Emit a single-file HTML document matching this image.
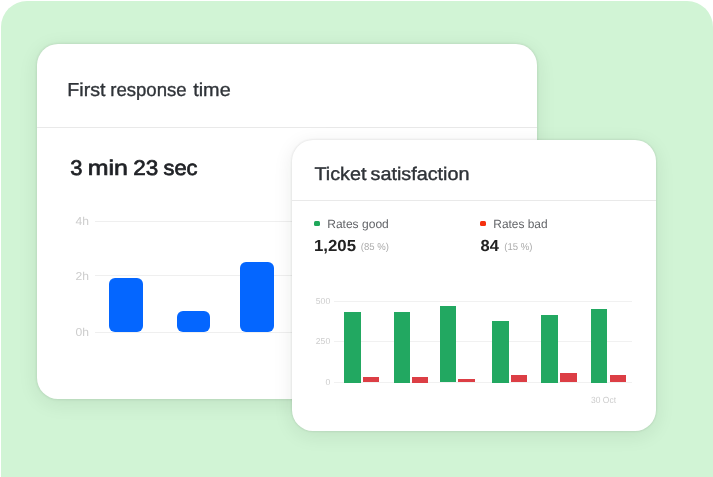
<!DOCTYPE html>
<html>
<head>
<meta charset="utf-8">
<style>
html,body{margin:0;padding:0;}
body{width:713px;height:477px;overflow:hidden;background:#fff;font-family:"Liberation Sans",sans-serif;position:relative;}
.bg{position:absolute;left:0.8px;top:0.5px;width:712.2px;height:476.2px;background:#d1f4d5;border-radius:26px 26px 0 0;}
.card{position:absolute;background:#fff;border-radius:21px;box-shadow:0 4px 20px rgba(0,30,10,0.085),0 0 3px rgba(0,30,10,0.14);}
#c1{left:37px;top:44px;width:500px;height:355px;}
#c2{left:292px;top:140px;width:364px;height:291px;}
svg{will-change:transform;text-rendering:geometricPrecision;position:absolute;left:0;top:0;width:713px;height:477px;font-family:"Liberation Sans",sans-serif;}
.hr{position:absolute;height:1px;background:#e9e9e9;}
.gl{position:absolute;height:1px;background:#efefef;}
.gl2{position:absolute;height:1px;background:#f1f1f1;}
.bb{position:absolute;background:#0466ff;border-radius:6px;}
.g{position:absolute;background:#22a861;}
.r{position:absolute;background:#dc3e45;}
.dot{position:absolute;width:5.6px;height:5.6px;border-radius:1.5px;top:220.8px;}
</style>
</head>
<body>
<div class="bg"></div>
<div class="card" id="c1"></div>
<div class="hr" style="left:37px;top:127px;width:500px;"></div>
<div class="gl" style="left:95px;top:220.5px;width:442px;"></div>
<div class="gl" style="left:95px;top:275px;width:442px;"></div>
<div class="gl" style="left:95px;top:332px;width:442px;"></div>
<div class="bb" style="left:109.2px;top:277.5px;width:33.8px;height:54.5px;"></div>
<div class="bb" style="left:177.1px;top:311.4px;width:33px;height:20.6px;"></div>
<div class="bb" style="left:240.3px;top:261.5px;width:33.8px;height:70.5px;"></div>
<svg id="s1" width="713" height="477" viewBox="0 0 713 477">
<text x="67.3" y="95.6" font-size="18.8" fill="#2f3338" textLength="38.2" lengthAdjust="spacingAndGlyphs" stroke="#2f3338" stroke-width="0.35">First</text>
<text x="110.2" y="95.6" font-size="18.8" fill="#2f3338" textLength="76.5" lengthAdjust="spacingAndGlyphs" stroke="#2f3338" stroke-width="0.35">response</text>
<text x="193.2" y="95.6" font-size="18.8" fill="#2f3338" textLength="37.5" lengthAdjust="spacingAndGlyphs" stroke="#2f3338" stroke-width="0.35">time</text>
<text x="70.2" y="175.1" font-size="21.2" fill="#1f2125" textLength="12.2" lengthAdjust="spacingAndGlyphs" stroke="#1f2125" stroke-width="0.7">3</text>
<text x="87.8" y="175.1" font-size="21.2" fill="#1f2125" textLength="40.2" lengthAdjust="spacingAndGlyphs" stroke="#1f2125" stroke-width="0.7">min</text>
<text x="133.3" y="175.1" font-size="21.2" fill="#1f2125" textLength="25" lengthAdjust="spacingAndGlyphs" stroke="#1f2125" stroke-width="0.7">23</text>
<text x="163.5" y="175.1" font-size="21.2" fill="#1f2125" textLength="34" lengthAdjust="spacingAndGlyphs" stroke="#1f2125" stroke-width="0.7">sec</text>
<text x="75.4" y="224.9" font-size="11.5" fill="#cdcdcd" textLength="13.5" lengthAdjust="spacingAndGlyphs">4h</text>
<text x="75.4" y="279.5" font-size="11.5" fill="#cdcdcd" textLength="13.5" lengthAdjust="spacingAndGlyphs">2h</text>
<text x="75.4" y="336.3" font-size="11.5" fill="#cdcdcd" textLength="13.5" lengthAdjust="spacingAndGlyphs">0h</text>
</svg>

<div class="card" id="c2"></div>
<div class="hr" style="left:292px;top:200px;width:364px;"></div>
<div class="dot" style="left:314.2px;background:#1fa85a;"></div>
<div class="dot" style="left:480.3px;background:#f5300f;"></div>
<div class="gl2" style="left:334px;top:300.7px;width:298px;"></div>
<div class="gl2" style="left:334px;top:340.7px;width:298px;"></div>
<div class="gl2" style="left:334px;top:382px;width:298px;"></div>
<div class="g" style="left:344.2px;top:312px;width:16.5px;height:70.5px;"></div>
<div class="r" style="left:362.9px;top:377.3px;width:16.4px;height:5.2px;"></div>
<div class="g" style="left:394px;top:312px;width:16.1px;height:70.5px;"></div>
<div class="r" style="left:412px;top:377px;width:16.1px;height:5.5px;"></div>
<div class="g" style="left:440px;top:305.8px;width:16px;height:76.7px;"></div>
<div class="r" style="left:458px;top:379.2px;width:16.6px;height:3.3px;"></div>
<div class="g" style="left:492.3px;top:321px;width:16.4px;height:61.5px;"></div>
<div class="r" style="left:511px;top:375.2px;width:16.2px;height:7.3px;"></div>
<div class="g" style="left:541.4px;top:314.5px;width:16.3px;height:68px;"></div>
<div class="r" style="left:560px;top:372.8px;width:16.5px;height:9.7px;"></div>
<div class="g" style="left:591px;top:309px;width:16.3px;height:73.5px;"></div>
<div class="r" style="left:609.7px;top:375.1px;width:16.2px;height:7.4px;"></div>
<svg id="s2" width="713" height="477" viewBox="0 0 713 477">
<text x="314.5" y="179.7" font-size="18.4" fill="#2f3338" textLength="52" lengthAdjust="spacingAndGlyphs" stroke="#2f3338" stroke-width="0.4">Ticket</text>
<text x="370.5" y="179.7" font-size="18.4" fill="#2f3338" textLength="99" lengthAdjust="spacingAndGlyphs" stroke="#2f3338" stroke-width="0.4">satisfaction</text>
<text x="327.2" y="227.7" font-size="12" fill="#626468" textLength="61.6" lengthAdjust="spacingAndGlyphs">Rates good</text>
<text x="493.3" y="227.7" font-size="12" fill="#626468" textLength="54.3" lengthAdjust="spacingAndGlyphs">Rates bad</text>
<text x="313.9" y="250.7" font-size="16" fill="#222" textLength="42.1" lengthAdjust="spacingAndGlyphs" font-weight="bold">1,205</text>
<text x="480.5" y="250.7" font-size="16" fill="#222" textLength="18.3" lengthAdjust="spacingAndGlyphs" font-weight="bold">84</text>
<text x="360.8" y="250.4" font-size="10" fill="#ababab" textLength="28.2" lengthAdjust="spacingAndGlyphs">(85 %)</text>
<text x="504.2" y="250.4" font-size="10" fill="#ababab" textLength="28.2" lengthAdjust="spacingAndGlyphs">(15 %)</text>
<text x="330.2" y="304.2" font-size="8.6" fill="#cdcdcd" text-anchor="end">500</text>
<text x="330.2" y="344.2" font-size="8.6" fill="#cdcdcd" text-anchor="end">250</text>
<text x="330.2" y="385" font-size="8.6" fill="#cdcdcd" text-anchor="end">0</text>
<text x="591" y="403.4" font-size="9" fill="#cdcdcd" textLength="25" lengthAdjust="spacingAndGlyphs">30 Oct</text>
</svg>
</body>
</html>
